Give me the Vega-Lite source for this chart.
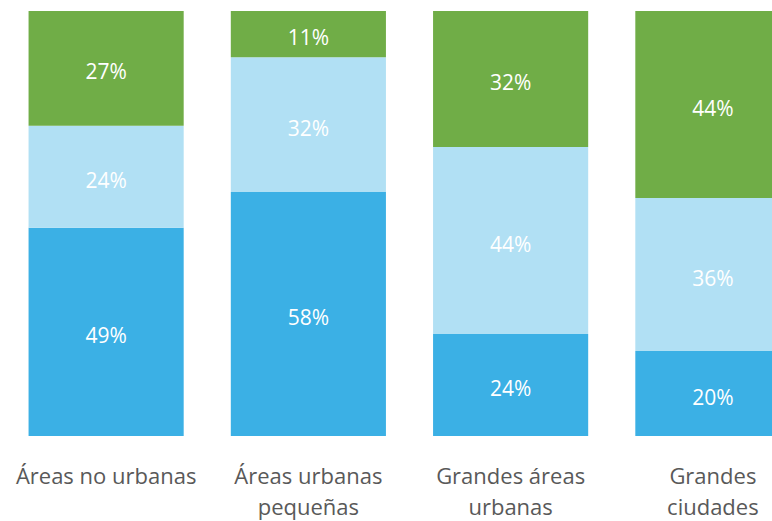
{
  "$schema": "https://vega.github.io/schema/vega-lite/v6.json",
  "width": 809,
  "height": 425,
  "autosize": {"type": "none"},
  "padding": {"left": 5, "top": 11, "right": 0, "bottom": 85},
  "background": "white",
  "config": {"view": {"stroke": null}, "font": "Open Sans"},
  "data": {
    "values": [
      {"area": "Áreas no urbanas", "grupo": "A", "orden": 1, "valor": 49},
      {"area": "Áreas no urbanas", "grupo": "B", "orden": 2, "valor": 24},
      {"area": "Áreas no urbanas", "grupo": "C", "orden": 3, "valor": 27},
      {"area": "Áreas urbanas pequeñas", "grupo": "A", "orden": 1, "valor": 58},
      {"area": "Áreas urbanas pequeñas", "grupo": "B", "orden": 2, "valor": 32},
      {"area": "Áreas urbanas pequeñas", "grupo": "C", "orden": 3, "valor": 11},
      {"area": "Grandes áreas urbanas", "grupo": "A", "orden": 1, "valor": 24},
      {"area": "Grandes áreas urbanas", "grupo": "B", "orden": 2, "valor": 44},
      {"area": "Grandes áreas urbanas", "grupo": "C", "orden": 3, "valor": 32},
      {"area": "Grandes ciudades", "grupo": "A", "orden": 1, "valor": 20},
      {"area": "Grandes ciudades", "grupo": "B", "orden": 2, "valor": 36},
      {"area": "Grandes ciudades", "grupo": "C", "orden": 3, "valor": 44}
    ]
  },
  "transform": [
    {"stack": "valor", "groupby": ["area"], "sort": [{"field": "orden"}], "offset": "normalize", "as": ["v0", "v1"]},
    {"calculate": "(datum.v0 + datum.v1) / 2", "as": "mid"},
    {"calculate": "datum.valor + '%'", "as": "etiqueta"}
  ],
  "encoding": {
    "x": {
      "field": "area",
      "type": "nominal",
      "sort": null,
      "scale": {"paddingInner": 0.233, "paddingOuter": 0.1165},
      "axis": {
        "title": null,
        "domain": false,
        "ticks": false,
        "labelAngle": 0,
        "labelFontSize": 22,
        "labelColor": "#595959",
        "labelPadding": 30,
        "labelLineHeight": 31,
        "labelLimit": 400,
        "labelExpr": "datum.value == 'Áreas urbanas pequeñas' ? ['Áreas urbanas', 'pequeñas'] : datum.value == 'Grandes áreas urbanas' ? ['Grandes áreas', 'urbanas'] : datum.value == 'Grandes ciudades' ? ['Grandes', 'ciudades'] : datum.value"
      }
    }
  },
  "layer": [
    {
      "mark": {"type": "bar"},
      "encoding": {
        "y": {"field": "v0", "type": "quantitative", "scale": {"domain": [0, 1]}, "axis": null},
        "y2": {"field": "v1"},
        "color": {
          "field": "grupo",
          "type": "nominal",
          "scale": {"domain": ["A", "B", "C"], "range": ["#3BB0E5", "#B1E0F4", "#70AD47"]},
          "legend": null
        }
      }
    },
    {
      "mark": {"type": "text", "color": "white", "fontSize": 21, "baseline": "middle", "dy": 5},
      "encoding": {
        "y": {"field": "mid", "type": "quantitative", "scale": {"domain": [0, 1]}, "axis": null},
        "text": {"field": "etiqueta", "type": "nominal"}
      }
    }
  ]
}
